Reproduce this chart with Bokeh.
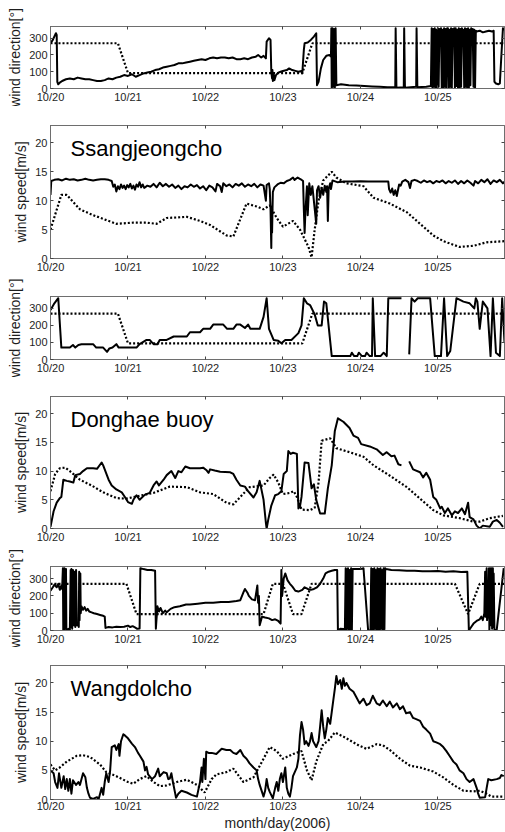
import math
from bokeh.plotting import figure
from bokeh.layouts import column
from bokeh.models import Range1d, FixedTicker, LinearAxis, Label, CustomLabelingPolicy
from bokeh.embed import file_html
from bokeh.resources import INLINE

NAN = float("nan")
FONT = "Liberation Sans"
TXT = "#1e1e1e"
FRAME = "#6e6e6e"

DAY_TICKS = [0, 1, 2, 3, 4, 5]
DAY_LABELS = ["10/20", "10/21", "10/22", "10/23", "10/24", "10/25"]
DIR_TICKS = [0, 100, 200, 300]
SPD_TICKS = [0, 5, 10, 15, 20]
X_END = 5.86
DIR_MAX = 370
SPD_MAX = 23

STATIONS = ["Ssangjeongcho", "Donghae buoy", "Wangdolcho"]

# ---------------- Ssangjeongcho ----------------
ss_dir_obs = [
    (0.00, 270), (0.03, 290), (0.07, 330), (0.08, 320), (0.088, 40), (0.10, 25), (0.12, 35),
    (0.15, 45), (0.20, 55), (0.25, 60), (0.30, 55), (0.35, 65), (0.40, 60), (0.45, 55),
    (0.50, 55), (0.55, 50), (0.60, 45), (0.65, 45), (0.70, 50), (0.75, 60), (0.80, 55),
    (0.85, 65), (0.90, 70), (0.95, 80), (1.00, 75), (1.05, 85), (1.10, 70), (1.15, 80),
    (1.20, 90), (1.25, 95), (1.30, 100), (1.35, 110), (1.40, 115), (1.45, 125), (1.50, 130),
    (1.55, 135), (1.60, 140), (1.65, 150), (1.70, 150), (1.75, 155), (1.80, 160), (1.85, 165),
    (1.90, 170), (1.95, 175), (2.00, 170), (2.05, 180), (2.10, 185), (2.15, 180), (2.20, 185),
    (2.25, 185), (2.30, 180), (2.35, 185), (2.40, 175), (2.45, 175), (2.50, 180), (2.55, 175),
    (2.60, 185), (2.65, 190), (2.68, 200), (2.72, 185), (2.75, 195), (2.78, 180), (2.79, 280),
    (2.82, 300), (2.84, 290), (2.85, 100), (2.86, 60), (2.865, 110), (2.87, 45), (2.88, 90),
    (2.89, 50), (2.91, 80), (2.94, 95), (2.97, 100), (3.00, 105), (3.05, 110), (3.08, 120),
    (3.12, 110), (3.16, 105), (3.20, 100), (3.24, 105), (3.25, 90), (3.27, 230), (3.28, 270),
    (3.32, 275), (3.36, 290), (3.40, 310), (3.43, 330), (3.44, 20), (3.46, 40), (3.49, 120),
    (3.52, 170), (3.56, 195), (3.60, 200), (3.62, 190), (3.625, 360), (3.63, 0), (3.64, 360),
    (3.65, 10), (3.66, 355), (3.67, 5), (3.68, 360), (3.69, 20), (3.75, 25), (3.85, 20),
    (3.95, 18), (4.05, 15), (4.15, 12), (4.25, 10), (4.35, 8), (4.45, 8), (4.455, 360),
    (4.465, 5), (4.56, 8), (4.565, 360), (4.575, 5), (4.72, 10), (4.725, 360), (4.735, 8),
    (4.85, 10), (4.91, 15),
    (4.92, 360), (4.93, 5), (4.94, 355), (4.95, 10), (4.96, 360), (4.97, 5), (4.98, 350),
    (4.99, 0), (5.00, 360), (5.01, 10), (5.02, 355), (5.03, 340), (5.04, 360), (5.05, 0),
    (5.06, 350), (5.07, 5), (5.08, 360), (5.09, 10), (5.10, 355), (5.11, 0), (5.12, 360),
    (5.13, 360), (5.14, 5), (5.15, 350), (5.16, 10), (5.17, 360), (5.18, 0), (5.19, 355),
    (5.20, 345), (5.21, 360), (5.22, 5), (5.23, 360), (5.24, 15), (5.25, 350), (5.26, 0),
    (5.27, 360), (5.28, 5), (5.29, 355), (5.30, 10), (5.31, 360), (5.32, 340), (5.33, 350),
    (5.34, 0), (5.35, 360), (5.36, 10), (5.37, 355), (5.38, 5), (5.39, 360), (5.40, 0),
    (5.41, 350), (5.42, 20), (5.43, 360), (5.44, 340), (5.45, 355), (5.46, 10), (5.47, 350),
    (5.48, 5), (5.49, 345),
    (5.50, 340), (5.54, 345), (5.58, 335), (5.62, 340), (5.66, 345), (5.70, 340), (5.72, 345),
    (5.73, 40), (5.75, 30), (5.78, 25), (5.80, 30), (5.82, 200), (5.84, 360), (5.86, 350),
]
ss_dir_mod = [(0.00, 270), (0.87, 270), (1.00, 92), (3.25, 92), (3.38, 270), (5.86, 270)]

ss_spd_obs = [
    (0.00, 11.0), (0.01, 13.4), (0.05, 13.6), (0.10, 13.7), (0.15, 13.5), (0.20, 13.8),
    (0.25, 13.6), (0.30, 13.7), (0.35, 13.5), (0.40, 13.6), (0.45, 13.8), (0.50, 13.6),
    (0.55, 13.5), (0.60, 13.6), (0.65, 13.7), (0.70, 13.7), (0.75, 13.6), (0.79, 13.4),
    (0.81, 12.4), (0.83, 12.8), (0.85, 11.6), (0.87, 12.5), (0.89, 12.0), (0.91, 12.8),
    (0.93, 12.2), (0.95, 12.6), (0.97, 12.0), (0.99, 12.7), (1.01, 12.3), (1.03, 12.9),
    (1.05, 12.1), (1.07, 12.6), (1.09, 11.9), (1.11, 12.8), (1.13, 12.4), (1.15, 13.2),
    (1.17, 12.3), (1.19, 12.8), (1.21, 12.2), (1.25, 12.6), (1.29, 12.4), (1.33, 12.9),
    (1.37, 12.3), (1.41, 13.1), (1.45, 12.5), (1.49, 12.9), (1.53, 12.4), (1.57, 12.8),
    (1.61, 12.2), (1.65, 12.6), (1.69, 12.0), (1.73, 12.5), (1.77, 12.3), (1.81, 12.8),
    (1.85, 12.4), (1.89, 12.7), (1.93, 12.1), (1.97, 12.5), (2.01, 11.8), (2.05, 12.6),
    (2.09, 12.3), (2.13, 11.6), (2.15, 12.9), (2.19, 12.5), (2.21, 11.5), (2.23, 13.0),
    (2.27, 12.5), (2.31, 12.8), (2.35, 12.3), (2.39, 12.9), (2.43, 12.6), (2.47, 13.0),
    (2.51, 12.4), (2.55, 12.8), (2.59, 12.5), (2.63, 12.9), (2.67, 12.3), (2.71, 12.8),
    (2.75, 12.6), (2.78, 10.0), (2.79, 12.7), (2.82, 13.0), (2.83, 12.0), (2.84, 8.5),
    (2.85, 1.8), (2.855, 9.0), (2.86, 4.5), (2.87, 11.5), (2.89, 12.3), (2.93, 12.8),
    (2.97, 13.1), (3.01, 13.0), (3.05, 13.4), (3.09, 13.6), (3.13, 14.0), (3.15, 13.6),
    (3.19, 14.0), (3.23, 13.7), (3.26, 13.4), (3.27, 8.5), (3.28, 4.4), (3.29, 8.0),
    (3.31, 12.5), (3.32, 7.5), (3.34, 13.0), (3.36, 11.0), (3.38, 12.5), (3.43, 6.0),
    (3.44, 11.8), (3.46, 12.5), (3.48, 10.5), (3.50, 12.2), (3.52, 11.0), (3.54, 12.6),
    (3.56, 11.5), (3.57, 12.5), (3.58, 6.5), (3.59, 12.0), (3.61, 13.0), (3.62, 12.0),
    (3.64, 13.5), (3.70, 13.2), (3.80, 13.3), (3.90, 13.3), (4.00, 13.35), (4.10, 13.3),
    (4.20, 13.3), (4.30, 13.3), (4.36, 13.3), (4.37, 12.0), (4.39, 11.4), (4.41, 12.1),
    (4.43, 11.0), (4.45, 11.8), (4.47, 10.8), (4.48, 11.5), (4.50, 12.8), (4.52, 12.6),
    (4.54, 13.3), (4.58, 13.6), (4.62, 13.2), (4.64, 12.2), (4.66, 13.4), (4.70, 13.6),
    (4.74, 13.4), (4.78, 13.1), (4.82, 13.5), (4.86, 13.2), (4.90, 13.4), (4.94, 13.0),
    (4.98, 13.4), (5.02, 13.2), (5.06, 13.5), (5.10, 13.0), (5.14, 13.4), (5.18, 13.1),
    (5.22, 13.5), (5.26, 12.9), (5.30, 13.4), (5.34, 13.0), (5.38, 13.5), (5.42, 13.1),
    (5.46, 12.6), (5.48, 13.4), (5.52, 13.0), (5.56, 13.6), (5.60, 13.2), (5.64, 13.7),
    (5.68, 12.9), (5.72, 13.5), (5.76, 13.2), (5.80, 13.6), (5.84, 13.0), (5.86, 13.3),
]
ss_spd_mod = [
    (0.00, 5.0), (0.14, 11.0), (0.21, 11.0), (0.38, 8.5), (0.55, 7.5), (0.85, 6.0),
    (1.07, 6.2), (1.24, 6.2), (1.37, 6.0), (1.50, 7.0), (1.76, 7.2), (1.93, 6.5),
    (2.06, 5.8), (2.27, 4.0), (2.36, 3.8), (2.53, 9.5), (2.66, 9.0), (2.75, 8.5),
    (2.83, 9.2), (2.92, 7.0), (3.00, 5.5), (3.13, 6.5), (3.22, 5.0), (3.33, 2.0),
    (3.37, 0.2), (3.41, 5.0), (3.46, 10.0), (3.52, 13.5), (3.63, 15.0), (3.69, 14.0),
    (3.82, 13.0), (4.04, 12.5), (4.17, 10.5), (4.38, 9.5), (4.60, 8.0), (4.77, 6.0),
    (4.94, 4.0), (5.07, 3.0), (5.28, 2.0), (5.46, 2.2), (5.63, 2.8), (5.86, 3.0),
]

# ---------------- Donghae buoy ----------------
dh_dir_obs = [
    (0.00, 290), (0.05, 330), (0.10, 360), (0.14, 70), (0.20, 70), (0.25, 70), (0.29, 85),
    (0.32, 70), (0.36, 85), (0.40, 90), (0.47, 90), (0.55, 90), (0.59, 70), (0.64, 70),
    (0.68, 70), (0.73, 45), (0.76, 65), (0.80, 70), (0.85, 90), (0.88, 70), (0.95, 70),
    (1.05, 70), (1.11, 70), (1.15, 90), (1.24, 115), (1.28, 115), (1.33, 90), (1.38, 90),
    (1.41, 115), (1.50, 115), (1.59, 135), (1.76, 135), (1.80, 160), (1.93, 160),
    (1.97, 180), (2.06, 180), (2.10, 205), (2.23, 205), (2.28, 180), (2.36, 180),
    (2.40, 205), (2.45, 205), (2.51, 185), (2.55, 205), (2.58, 180), (2.62, 180),
    (2.70, 180), (2.75, 250), (2.79, 360), (2.82, 180), (2.88, 115), (2.94, 110),
    (2.98, 95), (3.03, 115), (3.11, 115), (3.20, 155), (3.24, 200), (3.27, 360),
    (3.31, 330), (3.35, 320), (3.41, 265), (3.45, 200), (3.50, 200), (3.53, 340),
    (3.56, 330), (3.63, 20), (3.70, 20), (3.80, 20), (3.87, 20), (3.89, 40), (3.92, 20),
    (3.96, 20), (3.98, 40), (4.02, 20), (4.06, 20), (4.08, 40), (4.12, 20), (4.15, 20),
    (4.16, 360), (4.19, 20), (4.26, 20), (4.30, 40), (4.34, 20), (4.36, 360), (4.45, 360),
    (4.53, 360), (4.58, NAN), (4.63, 30), (4.66, 360), (4.70, 340), (4.74, 360),
    (4.90, 360), (4.96, 20), (5.04, 20), (5.08, 360), (5.12, 20), (5.16, 50), (5.24, 360),
    (5.33, 340), (5.41, 330), (5.47, 300), (5.49, 360), (5.51, 340), (5.54, 180),
    (5.58, 340), (5.64, 300), (5.68, 20), (5.71, 360), (5.75, 40), (5.80, 20), (5.83, 360),
    (5.86, 100),
]
dh_dir_mod = [(0.00, 270), (0.87, 270), (1.00, 95), (3.25, 95), (3.38, 270), (5.86, 270)]

dh_spd_obs = [
    (0.00, 0.3), (0.04, 3.0), (0.08, 4.5), (0.12, 5.3), (0.14, 5.5), (0.166, 8.5),
    (0.21, 8.3), (0.25, 8.2), (0.295, 8.0), (0.32, 9.3), (0.38, 9.5), (0.42, 10.0),
    (0.47, 10.5), (0.55, 10.5), (0.60, 10.4), (0.66, 11.5), (0.68, 11.0), (0.75, 8.5),
    (0.79, 7.5), (0.85, 6.8), (0.92, 6.3), (0.96, 5.5), (1.00, 4.6), (1.05, 4.3),
    (1.07, 5.0), (1.11, 5.8), (1.15, 5.0), (1.22, 5.9), (1.28, 6.2), (1.33, 7.5),
    (1.37, 8.2), (1.40, 7.5), (1.46, 8.5), (1.50, 9.3), (1.56, 10.0), (1.61, 8.8),
    (1.65, 10.0), (1.69, 9.8), (1.74, 10.8), (1.80, 10.5), (1.93, 10.5), (1.97, 10.6),
    (2.01, 10.2), (2.04, 9.7), (2.06, 10.3), (2.12, 10.1), (2.19, 9.9), (2.32, 9.8),
    (2.36, 9.5), (2.40, 8.5), (2.45, 7.5), (2.51, 7.3), (2.55, 6.5), (2.62, 5.4),
    (2.66, 6.3), (2.70, 8.3), (2.75, 5.0), (2.78, 1.0), (2.79, 0.0), (2.81, 1.5),
    (2.85, 4.0), (2.90, 5.8), (2.94, 6.0), (2.98, 6.5), (3.01, 9.5), (3.05, 10.0),
    (3.07, 13.5), (3.10, 13.0), (3.13, 13.2), (3.18, 13.0), (3.20, 3.5), (3.22, 3.8),
    (3.24, 5.5), (3.28, 11.5), (3.33, 11.4), (3.37, 7.0), (3.40, 7.7), (3.43, 5.0),
    (3.48, 2.6), (3.54, 2.6), (3.58, 7.0), (3.63, 11.0), (3.67, 17.0), (3.71, 19.2),
    (3.78, 18.6), (3.86, 17.5), (3.91, 16.2), (3.97, 15.8), (4.01, 14.7), (4.12, 14.3),
    (4.21, 13.8), (4.29, 12.8), (4.34, 13.3), (4.40, 12.6), (4.44, 12.7), (4.49, 11.2),
    (4.53, 11.0), (4.58, NAN), (4.63, 11.7), (4.68, 10.3), (4.77, 9.8), (4.81, 8.9),
    (4.85, 9.7), (4.90, 8.5), (4.94, 5.5), (4.98, 5.0), (5.03, 3.5), (5.05, 3.8),
    (5.09, 2.7), (5.13, 3.5), (5.18, 2.3), (5.22, 3.0), (5.26, 2.7), (5.31, 3.5),
    (5.35, 2.5), (5.39, 4.5), (5.41, 2.0), (5.46, 1.6), (5.50, 0.5), (5.54, 0.0),
    (5.58, 0.5), (5.67, 0.3), (5.71, 1.2), (5.76, 1.5), (5.80, 1.0), (5.84, 0.3),
]
dh_spd_mod = [
    (0.00, 6.5), (0.06, 9.5), (0.12, 10.5), (0.19, 10.6), (0.25, 10.0), (0.38, 8.5),
    (0.53, 7.5), (0.68, 6.3), (0.85, 5.3), (0.98, 5.2), (1.15, 5.7), (1.33, 6.2),
    (1.54, 7.3), (1.76, 7.2), (1.93, 6.3), (2.10, 6.0), (2.27, 4.5), (2.36, 4.2),
    (2.45, 5.5), (2.57, 7.2), (2.75, 7.5), (2.83, 8.8), (2.88, 9.4), (2.94, 8.0),
    (3.00, 6.0), (3.09, 6.2), (3.14, 6.5), (3.18, 5.5), (3.24, 3.3), (3.35, 3.2),
    (3.41, 3.6), (3.46, 8.0), (3.50, 15.3), (3.61, 15.7), (3.69, 14.0), (3.86, 13.3),
    (4.04, 12.5), (4.17, 11.0), (4.38, 9.2), (4.60, 7.2), (4.77, 5.2), (4.94, 3.2),
    (5.07, 2.3), (5.28, 1.8), (5.46, 1.2), (5.54, 1.2), (5.67, 1.8), (5.84, 2.2),
]

# ---------------- Wangdolcho ----------------
wd_dir_obs = [
    (0.00, 230), (0.03, 250), (0.05, 265), (0.08, 250), (0.10, 270), (0.12, 235),
    (0.14, 260), (0.15, 240), (0.16, 360), (0.165, 0), (0.17, 350), (0.175, 5),
    (0.18, 360), (0.19, 10), (0.20, 355), (0.205, 0), (0.21, 5), (0.24, 10), (0.25, 0),
    (0.26, 350), (0.265, 20), (0.27, 355), (0.28, 10), (0.29, 350), (0.30, 30),
    (0.31, 340), (0.32, 20), (0.33, 350), (0.34, 30), (0.35, 40), (0.365, 20),
    (0.37, 340), (0.375, 60), (0.385, 330), (0.39, 100), (0.40, 140), (0.42, 120),
    (0.44, 135), (0.46, 115), (0.48, 125), (0.50, 110), (0.53, 105), (0.56, 100),
    (0.60, 95), (0.64, 90), (0.68, 85), (0.70, 80), (0.71, 15), (0.75, 20), (0.80, 18),
    (0.85, 22), (0.90, 20), (0.95, 22), (1.00, 28), (1.03, 20), (1.06, 25), (1.09, 18),
    (1.12, 10), (1.15, 12), (1.16, 360), (1.20, 355), (1.25, 350), (1.30, 350),
    (1.35, 345), (1.36, 10), (1.38, 140), (1.40, 110), (1.42, 130), (1.45, 100),
    (1.48, 115), (1.50, 105), (1.55, 125), (1.60, 135), (1.67, 140), (1.75, 150),
    (1.80, 150), (1.90, 155), (2.00, 160), (2.10, 160), (2.20, 165), (2.30, 165),
    (2.40, 170), (2.45, 175), (2.49, 220), (2.51, 240), (2.54, 220), (2.56, 200),
    (2.60, 180), (2.64, 175), (2.67, 260), (2.68, 160), (2.69, 200), (2.70, 30),
    (2.73, 80), (2.77, 75), (2.82, 70), (2.86, 60), (2.90, 65), (2.94, 55), (2.97, 40),
    (2.98, 350), (2.99, 200), (3.01, 300), (3.03, 330), (3.06, 290), (3.09, 270),
    (3.12, 255), (3.16, 230), (3.20, 225), (3.25, 235), (3.28, 250), (3.32, 240),
    (3.36, 235), (3.40, 240), (3.44, 250), (3.48, 270), (3.52, 300), (3.55, 330),
    (3.59, 340), (3.63, 345), (3.67, 350), (3.70, 350), (3.71, 0), (3.74, 10),
    (3.78, 8), (3.80, 10), (3.81, 360), (3.815, 0), (3.82, 355), (3.83, 10), (3.84, 360),
    (3.85, 0), (3.86, 350), (3.87, 5), (3.88, 360), (3.89, 0), (3.90, 355), (3.95, 355),
    (4.00, 355), (4.04, 360), (4.10, 0), (4.13, 0), (4.14, 360), (4.15, 5), (4.16, 355),
    (4.17, 0), (4.18, 360), (4.19, 10), (4.20, 350), (4.21, 0), (4.22, 360), (4.23, 5),
    (4.24, 355), (4.25, 0), (4.26, 360), (4.27, 10), (4.28, 350), (4.29, 0), (4.30, 360),
    (4.31, 5), (4.32, 360), (4.33, 355), (4.40, 350), (4.50, 348), (4.60, 345),
    (4.70, 345), (4.80, 343), (4.90, 342), (5.00, 344), (5.10, 340), (5.20, 342),
    (5.30, 338), (5.38, 340), (5.40, 0), (5.43, 20), (5.46, 40), (5.50, 55), (5.54, 65),
    (5.56, 80), (5.58, 60), (5.60, 100), (5.61, 340), (5.615, 80), (5.63, 360),
    (5.635, 60), (5.65, 120), (5.66, 360), (5.665, 0), (5.675, 360), (5.68, 30),
    (5.69, 360), (5.70, 10), (5.71, 360), (5.715, 20), (5.72, 330), (5.73, 0),
    (5.76, 5), (5.85, 360),
]
wd_dir_mod = [
    (0.00, 270), (0.98, 270), (1.11, 95), (2.75, 95), (2.87, 270), (3.00, 270),
    (3.13, 95), (3.24, 95), (3.37, 270), (5.22, 270), (5.39, 95), (5.54, 270), (5.86, 270),
]

wd_spd_obs = [
    (0.00, 5.0), (0.04, 4.5), (0.06, 3.0), (0.09, 2.0), (0.11, 4.5), (0.14, 2.0),
    (0.17, 4.0), (0.19, 1.8), (0.21, 3.5), (0.23, 1.5), (0.25, 3.5), (0.27, 1.0),
    (0.29, 3.3), (0.33, 2.5), (0.36, 3.0), (0.38, 2.5), (0.42, 4.5), (0.45, 3.8),
    (0.47, 2.0), (0.49, 1.0), (0.51, 0.3), (0.55, 0.1), (0.60, 0.4), (0.62, 0.0),
    (0.64, 1.0), (0.66, 2.0), (0.68, 0.8), (0.70, 3.0), (0.72, 4.5), (0.75, 3.0),
    (0.77, 5.0), (0.79, 9.0), (0.83, 9.3), (0.85, 8.5), (0.88, 9.5), (0.89, 7.5),
    (0.91, 10.0), (0.94, 11.2), (0.96, 11.0), (1.00, 10.5), (1.05, 9.6), (1.09, 9.0),
    (1.13, 8.0), (1.15, 7.6), (1.20, 6.5), (1.22, 5.0), (1.24, 5.6), (1.26, 4.3),
    (1.31, 3.5), (1.35, 4.0), (1.39, 5.3), (1.41, 4.0), (1.46, 4.7), (1.50, 4.5),
    (1.52, 3.5), (1.54, 3.6), (1.56, 4.5), (1.58, 3.0), (1.61, 1.0), (1.62, 0.3),
    (1.65, 1.0), (1.69, 1.5), (1.76, 1.2), (1.82, 0.8), (1.89, 0.5), (1.93, 3.0),
    (1.95, 5.5), (1.96, 3.0), (1.98, 7.0), (2.00, 3.5), (2.01, 8.2), (2.04, 8.0),
    (2.08, 8.0), (2.14, 7.8), (2.21, 8.7), (2.27, 8.5), (2.32, 8.5), (2.36, 8.0),
    (2.40, 7.8), (2.45, 8.5), (2.49, 7.5), (2.53, 7.0), (2.57, 6.2), (2.62, 5.5),
    (2.66, 5.0), (2.68, 3.5), (2.70, 2.5), (2.75, 0.5), (2.77, 1.5), (2.79, 3.5),
    (2.81, 2.0), (2.83, 1.3), (2.87, 0.2), (2.90, 2.0), (2.92, 3.0), (2.94, 1.5),
    (2.96, 3.5), (2.98, 4.5), (3.00, 3.0), (3.03, 5.5), (3.05, 2.0), (3.07, 1.0),
    (3.09, 0.5), (3.11, 2.0), (3.13, 4.0), (3.18, 5.5), (3.20, 7.0), (3.22, 11.0),
    (3.24, 13.3), (3.26, 12.0), (3.28, 9.5), (3.30, 10.0), (3.33, 9.2), (3.35, 10.0),
    (3.37, 11.4), (3.39, 10.0), (3.43, 9.0), (3.46, 10.0), (3.48, 12.5), (3.50, 15.3),
    (3.52, 12.5), (3.54, 10.5), (3.56, 12.0), (3.58, 14.0), (3.61, 13.0), (3.63, 15.0),
    (3.65, 17.0), (3.67, 19.0), (3.69, 21.2), (3.71, 19.8), (3.74, 20.5), (3.76, 19.0),
    (3.78, 20.8), (3.80, 19.5), (3.82, 20.0), (3.86, 19.0), (3.91, 18.5), (3.95, 17.5),
    (3.99, 16.5), (4.04, 17.3), (4.08, 16.2), (4.12, 16.5), (4.16, 17.8), (4.21, 16.5),
    (4.25, 16.2), (4.29, 17.0), (4.34, 16.0), (4.38, 16.8), (4.42, 15.8), (4.47, 16.5),
    (4.51, 15.5), (4.55, 16.0), (4.59, 14.8), (4.64, 15.0), (4.68, 14.0), (4.72, 13.8),
    (4.77, 13.5), (4.81, 12.5), (4.85, 12.0), (4.90, 11.3), (4.94, 10.0), (4.98, 9.8),
    (5.03, 9.5), (5.07, 9.0), (5.11, 8.3), (5.15, 7.5), (5.20, 6.5), (5.24, 6.0),
    (5.28, 5.0), (5.33, 4.5), (5.37, 3.5), (5.41, 3.0), (5.46, 3.5), (5.50, 2.0),
    (5.52, 1.0), (5.54, 0.3), (5.61, 0.4), (5.63, 2.0), (5.65, 3.5), (5.69, 3.3),
    (5.76, 3.5), (5.80, 3.7), (5.82, 4.2), (5.85, 4.0),
]
wd_spd_mod = [
    (0.00, 6.0), (0.06, 5.0), (0.12, 5.5), (0.21, 6.5), (0.34, 7.5), (0.42, 7.6),
    (0.51, 7.3), (0.64, 6.0), (0.72, 4.7), (0.85, 4.0), (1.00, 3.0), (1.07, 2.7),
    (1.15, 3.5), (1.24, 4.0), (1.33, 3.0), (1.41, 2.3), (1.50, 2.4), (1.63, 3.0),
    (1.76, 3.4), (1.89, 2.5), (1.99, 1.2), (2.08, 3.5), (2.14, 4.3), (2.27, 4.7),
    (2.36, 5.3), (2.49, 3.0), (2.62, 3.8), (2.75, 7.0), (2.83, 9.0), (2.92, 8.3),
    (3.00, 7.0), (3.13, 7.8), (3.24, 8.3), (3.31, 5.0), (3.37, 3.3), (3.43, 6.5),
    (3.52, 9.5), (3.58, 10.0), (3.67, 11.5), (3.78, 10.8), (3.91, 9.8), (3.99, 9.2),
    (4.08, 8.7), (4.21, 9.5), (4.29, 9.3), (4.38, 8.5), (4.51, 7.0), (4.64, 5.8),
    (4.77, 5.5), (4.94, 4.8), (5.07, 3.8), (5.20, 2.5), (5.33, 1.5), (5.46, 1.4),
    (5.54, 1.5), (5.63, 1.0), (5.69, 0.5), (5.85, 0.5),
]

NO_LABELS = "for (const i of indices) { indices.unset(i) }\nreturn indices"


def style_axis(ax, ticks, labels=None, show=True):
    ax.ticker = FixedTicker(ticks=ticks)
    ax.major_tick_in = 3
    ax.major_tick_out = 0
    ax.minor_tick_line_color = None
    ax.major_tick_line_color = "#444444"
    ax.axis_line_color = FRAME
    if labels:
        ax.major_label_overrides = {t: l for t, l in zip(ticks, labels)}
    if show:
        ax.major_label_text_font = FONT
        ax.major_label_text_font_size = "11px"
        ax.major_label_text_color = TXT
        ax.major_label_standoff = 2
    else:
        ax.major_label_text_font_size = "0px"
        ax.major_label_standoff = 0
        ax.major_label_policy = CustomLabelingPolicy(code=NO_LABELS)


def panel(kind, obs, mod, frame_h, top, bottom, title=None, xlabel=None):
    ymax = DIR_MAX if kind == "dir" else SPD_MAX
    yt = DIR_TICKS if kind == "dir" else SPD_TICKS
    p = figure(frame_width=454, frame_height=frame_h,
               x_range=Range1d(0, X_END), y_range=Range1d(0, ymax),
               output_backend="svg", toolbar_location=None,
               min_border_left=50, min_border_right=1,
               min_border_top=top, min_border_bottom=bottom,
               background_fill_color="white", border_fill_color="white")
    p.grid.visible = False
    p.outline_line_color = FRAME
    p.outline_line_width = 1

    style_axis(p.xaxis[0], DAY_TICKS, DAY_LABELS)
    style_axis(p.yaxis[0], yt)
    p.yaxis[0].major_label_standoff = 3
    p.yaxis[0].axis_label = "wind direction[\u00b0]" if kind == "dir" else "wind speed[m/s]"
    p.yaxis[0].axis_label_text_font = FONT
    p.yaxis[0].axis_label_text_font_size = "14px"
    p.yaxis[0].axis_label_text_font_style = "normal"
    p.yaxis[0].axis_label_text_color = TXT
    p.yaxis[0].axis_label_standoff = 3
    if xlabel:
        p.xaxis[0].axis_label = xlabel
        p.xaxis[0].axis_label_text_font = FONT
        p.xaxis[0].axis_label_text_font_size = "14px"
        p.xaxis[0].axis_label_text_font_style = "normal"
        p.xaxis[0].axis_label_text_color = TXT
        p.xaxis[0].axis_label_standoff = 0
        p.xaxis[0].major_label_standoff = 0

    top_ax = LinearAxis()
    style_axis(top_ax, DAY_TICKS, show=False)
    p.add_layout(top_ax, "above")
    right_ax = LinearAxis()
    style_axis(right_ax, yt, show=False)
    p.add_layout(right_ax, "right")

    p.line([t for t, _ in mod], [v for _, v in mod], line_color="black",
           line_width=2.2, line_dash="2 2")
    p.line([t for t, _ in obs], [v for _, v in obs], line_color="black",
           line_width=2, line_join="round")

    if title:
        p.add_layout(Label(x=20, y=frame_h - 23, x_units="screen", y_units="screen",
                           text=title, text_font=FONT, text_font_size="22px",
                           text_color="black", text_baseline="alphabetic"))
    return p


figs = [
    panel("dir", ss_dir_obs, ss_dir_mod, 62, 26, 18),
    panel("spd", ss_spd_obs, ss_spd_mod, 133, 19, 19, title=STATIONS[0]),
    panel("dir", dh_dir_obs, dh_dir_mod, 63, 19, 18),
    panel("spd", dh_spd_obs, dh_spd_mod, 132, 19, 19, title=STATIONS[1]),
    panel("dir", wd_dir_obs, wd_dir_mod, 64, 19, 17),
    panel("spd", wd_spd_obs, wd_spd_mod, 134, 18, 30, title=STATIONS[2],
          xlabel="month/day(2006)"),
]

layout = column(*figs, spacing=0)
open("out.html", "w").write(file_html(layout, INLINE))
